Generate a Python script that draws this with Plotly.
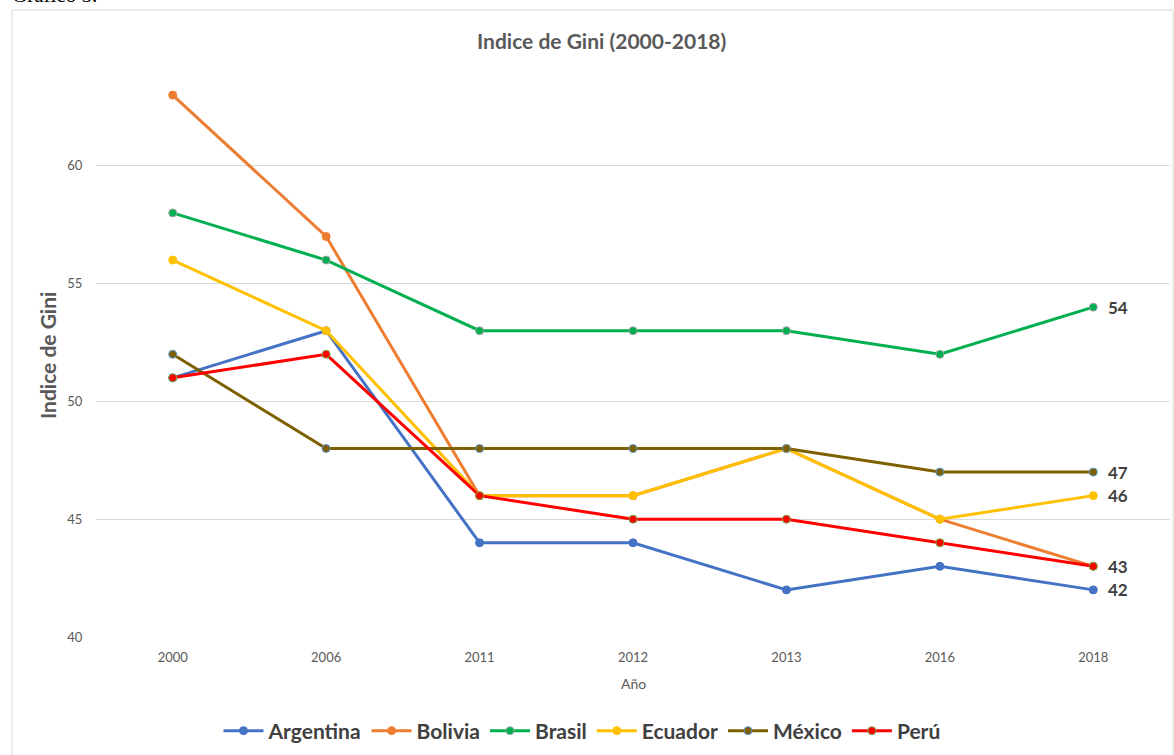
import plotly.graph_objects as go

years = ["2000", "2006", "2011", "2012", "2013", "2016", "2018"]
argentina = [51, 53, 44, 44, 42, 43, 42]
bolivia = [63, 57, 46, 46, 48, 45, 43]
brasil = [58, 56, 53, 53, 53, 52, 54]
ecuador = [56, 53, 46, 46, 48, 45, 46]
mexico = [52, 48, 48, 48, 48, 47, 47]
peru = [51, 52, 46, 45, 45, 44, 43]

series = [
    ("Argentina", argentina, "#4472C4", "#4472C4", True),
    ("Bolivia", bolivia, "#ED7D31", "#ED7D31", False),
    ("Brasil", brasil, "#00B050", "#A5A5A5", True),
    ("Ecuador", ecuador, "#FFC000", "#FFC000", True),
    ("México", mexico, "#7F6000", "#5B9BD5", True),
    ("Perú", peru, "#FF0000", "#70AD47", True),
]

FONT = "Lato, Open Sans, sans-serif"

W, H = 1174, 755
L, R, T, B = 96, 4, 48, 118
pw, ph = W - L - R, H - T - B

def px_x(p):
    return (p - L) / pw

def px_y(p):
    return (H - B - p) / ph

fig = go.Figure()
annotations = []
last = len(years) - 1
for name, vals, col, mline, lab in series:
    fig.add_trace(go.Scatter(
        x=years, y=vals, name=name, mode="lines+markers",
        line=dict(color=col, width=3),
        marker=dict(color=col, size=8, line=dict(color=mline, width=1)),
        cliponaxis=False,
    ))
    if lab:
        annotations.append(dict(
            x=last, y=vals[-1], xref="x", yref="y", text=str(vals[-1]),
            xanchor="left", yanchor="middle", xshift=13, showarrow=False,
            font=dict(family=FONT, size=17, color="#404040", weight="bold")))

annotations += [
    dict(text="Indice de Gini (2000-2018)", xref="paper", yref="paper",
         x=px_x(601), y=px_y(40), xanchor="center", yanchor="middle",
         showarrow=False,
         font=dict(family=FONT, size=21, color="#595959", weight="bold")),
    dict(text="Indice de Gini", xref="paper", yref="paper",
         x=px_x(47), y=px_y(356), xanchor="center", yanchor="middle",
         textangle=-90, showarrow=False,
         font=dict(family=FONT, size=21, color="#595959", weight="bold")),
    dict(text="Año", xref="paper", yref="paper",
         x=px_x(633), y=px_y(683), xanchor="center", yanchor="middle",
         showarrow=False,
         font=dict(family=FONT, size=14, color="#595959")),
    dict(text="Gráfico 5.", xref="paper", yref="paper",
         x=px_x(10), y=px_y(9), xanchor="left", yanchor="bottom",
         showarrow=False,
         font=dict(family="Liberation Serif, serif", size=21, color="black")),
]

fig.update_layout(
    width=W, height=H,
    margin=dict(l=L, r=R, t=T, b=B, autoexpand=False),
    paper_bgcolor="white", plot_bgcolor="white",
    showlegend=True,
    legend=dict(orientation="h", x=px_x(582), xanchor="center",
                y=px_y(731), yanchor="middle",
                font=dict(family=FONT, size=21, color="#404040", weight="bold"),
                itemwidth=40, bgcolor="rgba(0,0,0,0)"),
    xaxis=dict(type="category", range=[-0.5, 6.5], showgrid=False,
               showline=False, zeroline=False,
               tickfont=dict(family=FONT, size=13, color="#595959"),
               ticks="outside", ticklen=8, tickcolor="rgba(0,0,0,0)"),
    yaxis=dict(range=[40, 65], showgrid=True,
               gridcolor="#D9D9D9", gridwidth=1, zeroline=False, showline=False,
               tickvals=[40, 45, 50, 55, 60],
               tickfont=dict(family=FONT, size=13, color="#595959"),
               ticks="outside", ticklen=10, tickcolor="rgba(0,0,0,0)"),
    shapes=[dict(type="rect", xref="paper", yref="paper",
                 x0=px_x(12), x1=px_x(1173), y0=px_y(760), y1=px_y(10),
                 line=dict(color="#D9D9D9", width=1), layer="below")],
    annotations=annotations,
)

fig.write_html("out.html", config={"displayModeBar": False},
               post_script="document.body.style.margin='0';document.body.style.overflow='hidden';")
